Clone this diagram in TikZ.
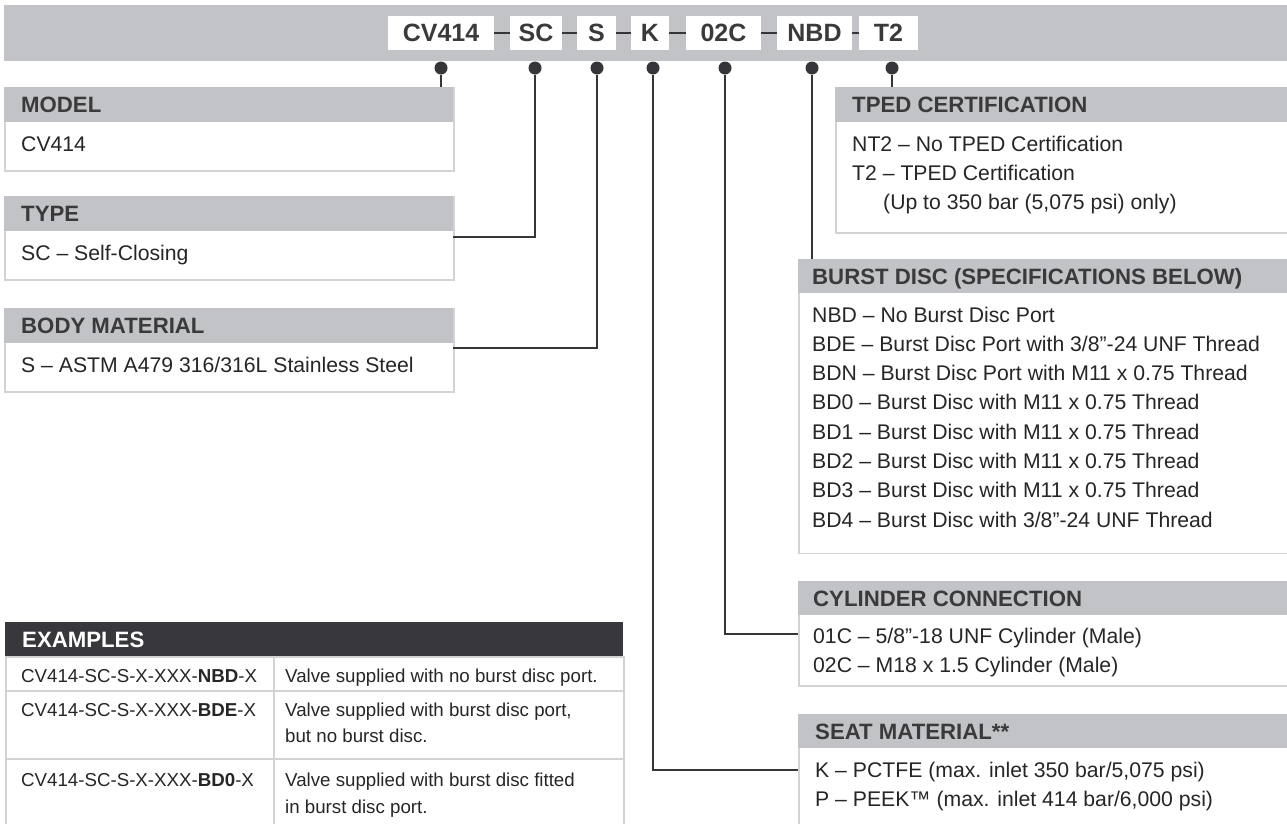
\documentclass[tikz,border=0pt]{standalone}
\usepackage{fontspec}
\setmainfont{Liberation Sans}
\definecolor{bargray}{HTML}{C2C3C7}
\definecolor{bordergray}{HTML}{D3D3D5}
\definecolor{hdrtext}{HTML}{3A3A3D}
\definecolor{bodytext}{HTML}{262626}
\definecolor{darkhdr}{HTML}{37373C}
\definecolor{linecol}{HTML}{36363A}
\begin{document}
\begin{tikzpicture}[x=1pt,y=-1pt,
  hdr/.style={fill=bargray, draw=none, anchor=north west, inner sep=0, minimum height=35pt},
  bodybox/.style={draw=bordergray, line width=1.5pt, fill=white, anchor=north west, inner sep=0},
  hdrtxt/.style={anchor=base west, inner sep=0, text=hdrtext, font=\fontsize{22.2}{26}\selectfont\bfseries},
  bodytxt/.style={anchor=base west, inner sep=0, text=bodytext, font=\fontsize{21.2}{25}\selectfont},
  tbltxt/.style={anchor=base west, inner sep=0, text=bodytext, font=\fontsize{18.7}{22}\selectfont},
  codebox/.style={fill=white, inner sep=0, minimum height=34pt, text=hdrtext, font=\fontsize{25}{30}\selectfont\bfseries},
  dotnode/.style={circle, fill=linecol, inner sep=0, minimum size=13pt},
  conn/.style={draw=linecol, line width=1.2pt},
  dashln/.style={draw=linecol, line width=2pt},
  cell/.style={draw=bordergray, line width=1.5pt, fill=white, anchor=north west, inner sep=0}
]
\useasboundingbox (0,0) rectangle (1287,823);
\clip (0,0) rectangle (1287,823);

% top bar
\node[fill=bargray, inner sep=0, anchor=north west, minimum width=1290pt, minimum height=56pt] (bar) at (4,5) {};

% code boxes
\node[codebox, minimum width=106pt] (cCV) at (441,33) {CV414};
\node[codebox, minimum width=52pt] (cSC) at (536,33) {SC};
\node[codebox, minimum width=39pt] (cS) at (596.5,33) {S};
\node[codebox, minimum width=38pt] (cK) at (650,33) {K};
\node[codebox, minimum width=75pt] (c02C) at (723.5,33) {02C};
\node[codebox, minimum width=75pt] (cNBD) at (814.5,33) {NBD};
\node[codebox, minimum width=59pt] (cT2) at (888.5,33) {T2};
\draw[dashln] (cCV.east) -- (cSC.west);
\draw[dashln] (cSC.east) -- (cS.west);
\draw[dashln] (cS.east) -- (cK.west);
\draw[dashln] (cK.east) -- (c02C.west);
\draw[dashln] (c02C.east) -- (cNBD.west);
\draw[dashln] (cNBD.east) -- (cT2.west);

% dots
\node[dotnode] (dCV) at (441,68) {};
\node[dotnode] (dSC) at (535,68) {};
\node[dotnode] (dS) at (597,68) {};
\node[dotnode] (dK) at (653,68) {};
\node[dotnode] (d02C) at (725,68) {};
\node[dotnode] (dNBD) at (812,68) {};
\node[dotnode] (dT2) at (892,68) {};

% left boxes
\node[bodybox, minimum width=449pt, minimum height=83pt] (modelB) at (4,87) {};
\node[hdr, minimum width=449pt] (modelH) at (4,87) {};
\node[hdrtxt] (modelT) at (21,112.5) {MODEL};
\node[bodytxt] (modelL1) at (21,151) {CV414};

\node[bodybox, minimum width=449pt, minimum height=83pt] (typeB) at (4,196) {};
\node[hdr, minimum width=449pt] (typeH) at (4,196) {};
\node[hdrtxt] (typeT) at (21,221.5) {TYPE};
\node[bodytxt] (typeL1) at (21,260) {SC – Self-Closing};

\node[bodybox, minimum width=449pt, minimum height=83pt] (bodyB) at (4,308) {};
\node[hdr, minimum width=449pt] (bodyH) at (4,308) {};
\node[hdrtxt] (bodyT) at (21,333.5) {BODY MATERIAL};
\node[bodytxt] (bodyL1) at (21,372) {S – ASTM A479 316/316L Stainless Steel};

% right boxes
\node[bodybox, minimum width=470pt, minimum height=145pt] (tpedB) at (835,87) {};
\node[hdr, minimum width=470pt] (tpedH) at (835,87) {};
\node[hdrtxt] (tpedT) at (852,112.5) {TPED CERTIFICATION};
\node[bodytxt] (tpedL1) at (852,151) {NT2 – No TPED Certification};
\node[bodytxt] (tpedL2) at (852,180) {T2 – TPED Certification};
\node[bodytxt] (tpedL3) at (883,209) {(Up to 350 bar (5,075 psi) only)};

\node[bodybox, minimum width=510pt, minimum height=294pt] (burstB) at (798,258.5) {};
\node[hdr, minimum width=510pt, minimum height=34.5pt] (burstH) at (798,258.5) {};
\node[hdrtxt] (burstT) at (812,284) {BURST DISC (SPECIFICATIONS BELOW)};
\node[bodytxt] (burstL1) at (812,322) {NBD – No Burst Disc Port};
\node[bodytxt] (burstL2) at (812,351.3) {BDE – Burst Disc Port with 3/8”-24 UNF Thread};
\node[bodytxt] (burstL3) at (812,380.6) {BDN – Burst Disc Port with M11 x 0.75 Thread};
\node[bodytxt] (burstL4) at (812,409.9) {BD0 – Burst Disc with M11 x 0.75 Thread};
\node[bodytxt] (burstL5) at (812,439.2) {BD1 – Burst Disc with M11 x 0.75 Thread};
\node[bodytxt] (burstL6) at (812,468.5) {BD2 – Burst Disc with M11 x 0.75 Thread};
\node[bodytxt] (burstL7) at (812,497.8) {BD3 – Burst Disc with M11 x 0.75 Thread};
\node[bodytxt] (burstL8) at (812,527.1) {BD4 – Burst Disc with 3/8”-24 UNF Thread};

\node[bodybox, minimum width=510pt, minimum height=104.5pt] (cylB) at (798,580.5) {};
\node[hdr, minimum width=510pt, minimum height=34pt] (cylH) at (798,580.5) {};
\node[hdrtxt] (cylT) at (813,606) {CYLINDER CONNECTION};
\node[bodytxt] (cylL1) at (813,643) {01C – 5/8”-18 UNF Cylinder (Male)};
\node[bodytxt] (cylL2) at (813,672) {02C – M18 x 1.5 Cylinder (Male)};

\node[bodybox, minimum width=510pt, minimum height=130pt] (seatB) at (798,714) {};
\node[hdr, minimum width=510pt, minimum height=34pt] (seatH) at (798,714) {};
\node[hdrtxt] (seatT) at (815,739.5) {SEAT MATERIAL**};
\node[bodytxt] (seatL1) at (815,777) {K – PCTFE (max. inlet 350 bar/5,075 psi)};
\node[bodytxt] (seatL2) at (815,806) {P – PEEK™ (max. inlet 414 bar/6,000 psi)};

% examples table
\node[fill=darkhdr, inner sep=0, anchor=north west, minimum width=618pt, minimum height=34pt] (exH) at (5,622) {};
\node[anchor=base west, inner sep=0, text=white, font=\fontsize{22.2}{26}\selectfont\bfseries] (exT) at (22,647.5) {EXAMPLES};
\node[cell, minimum width=268pt, minimum height=34pt] (r1a) at (5,656) {};
\node[cell, minimum width=350pt, minimum height=34pt] (r1b) at (273,656) {};
\node[cell, minimum width=268pt, minimum height=68pt] (r2a) at (5,690) {};
\node[cell, minimum width=350pt, minimum height=68pt] (r2b) at (273,690) {};
\node[cell, minimum width=268pt, minimum height=80pt] (r3a) at (5,758) {};
\node[cell, minimum width=350pt, minimum height=80pt] (r3b) at (273,758) {};
\node[tbltxt] (r1aT) at (21,682) {CV414-SC-S-X-XXX-\textbf{NBD}-X};
\node[tbltxt] (r1bT) at (285,682) {Valve supplied with no burst disc port.};
\node[tbltxt] (r2aT) at (21,716) {CV414-SC-S-X-XXX-\textbf{BDE}-X};
\node[tbltxt] (r2bT) at (285,716) {Valve supplied with burst disc port,};
\node[tbltxt] (r2bU) at (285,742) {but no burst disc.};
\node[tbltxt] (r3aT) at (21,786) {CV414-SC-S-X-XXX-\textbf{BD0}-X};
\node[tbltxt] (r3bT) at (285,786) {Valve supplied with burst disc fitted};
\node[tbltxt] (r3bU) at (285,813) {in burst disc port.};

% connector end points
\coordinate (typeIn) at (453,237);
\coordinate (bodyIn) at (453,348);
\coordinate (cylIn) at (798,634);
\coordinate (seatIn) at (798,770);

% connectors
\draw[conn] (dCV.south) -- (dCV.south |- modelH.north);
\draw[conn] (dSC.south) |- (typeIn);
\draw[conn] (dS.south) |- (bodyIn);
\draw[conn] (dK.south) |- (seatIn);
\draw[conn] (d02C.south) |- (cylIn);
\draw[conn] (dNBD.south) -- (dNBD.south |- burstH.north);
\draw[conn] (dT2.south) -- (dT2.south |- tpedH.north);
\end{tikzpicture}
\end{document}
